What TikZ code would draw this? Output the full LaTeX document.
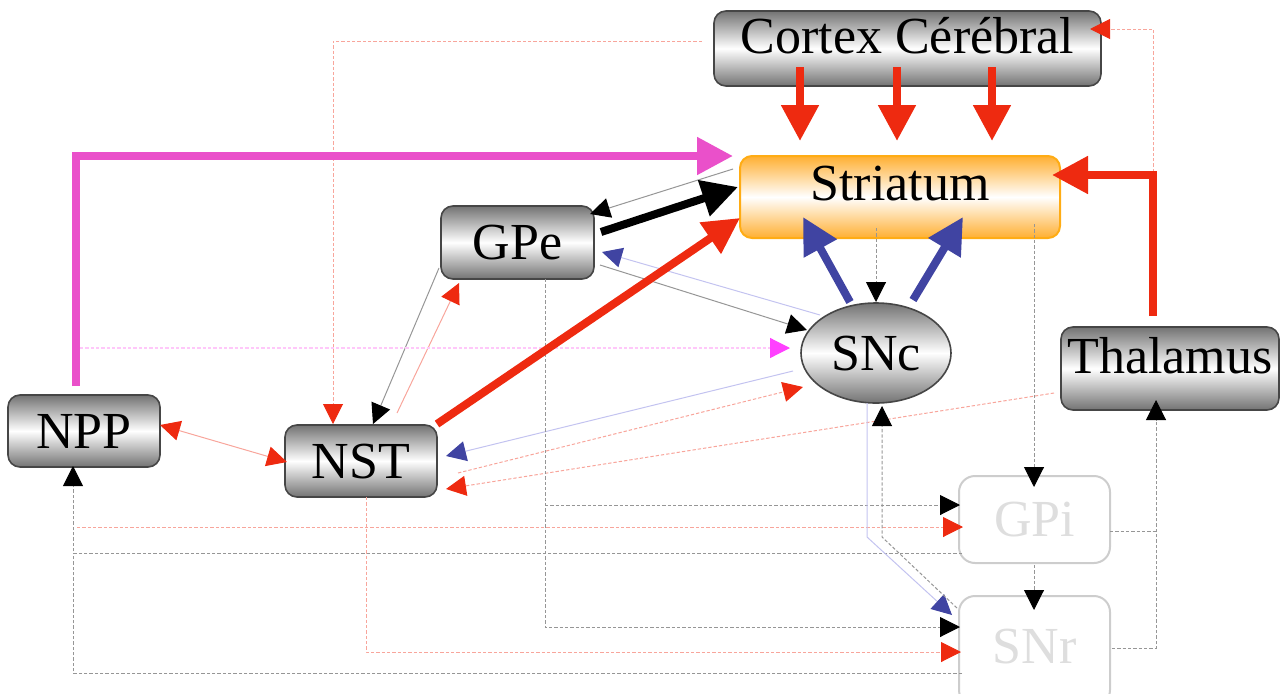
\documentclass[tikz,border=0pt]{standalone}
\usepackage{fontspec}
\setmainfont{Liberation Serif}
\usetikzlibrary{arrows.meta,shapes.geometric}
\definecolor{cred}{RGB}{238,42,16}
\definecolor{cpink}{RGB}{234,80,202}
\definecolor{cblue}{RGB}{64,68,162}
\definecolor{cmag}{RGB}{255,64,255}
\definecolor{lred}{RGB}{248,165,155}
\definecolor{lgray}{RGB}{150,150,150}
\definecolor{lblue}{RGB}{195,195,240}
\definecolor{lmag}{RGB}{255,200,250}
\definecolor{boxgray}{RGB}{115,115,115}
\definecolor{boxline}{RGB}{70,70,70}
\definecolor{borange}{RGB}{255,172,20}
\definecolor{torange}{RGB}{255,175,50}
\definecolor{faint}{RGB}{205,205,205}
\definecolor{fainttext}{RGB}{222,222,222}
\tikzset{
  graybox/.style={rectangle, rounded corners=9pt, draw=boxline, line width=1.2pt,
    top color=boxgray, bottom color=boxgray, middle color=white, inner sep=0pt,
    text height=25.5pt, text depth=0pt, font=\fontsize{39}{40}\selectfont},
  grayell/.style={ellipse, draw=boxline, line width=1.2pt,
    top color=boxgray, bottom color=boxgray, middle color=white, inner sep=0pt,
    text height=25.5pt, text depth=0pt, font=\fontsize{39}{40}\selectfont},
  orbox/.style={rectangle, rounded corners=9pt, draw=borange, line width=1.5pt,
    top color=torange, bottom color=torange, middle color=white, inner sep=0pt,
    text height=25.5pt, text depth=0pt, font=\fontsize{39}{40}\selectfont},
  fbox/.style={rectangle, rounded corners=12pt, draw=faint, line width=1.5pt, fill=white,
    text=fainttext, inner sep=0pt, text height=25.5pt, text depth=0pt,
    font=\fontsize{39}{40}\selectfont},
  thickar/.style={line width=6pt, -{Triangle[length=27pt,width=27pt]}},
  ar/.style={-{Triangle[length=15pt,width=15pt,color=#1]}},
  arboth/.style={{Triangle[length=15pt,width=15pt,color=#1]}-{Triangle[length=15pt,width=15pt,color=#1]}},
  lr/.style={draw=lred, line width=0.75pt},
  lg/.style={draw=lgray, line width=0.75pt},
  lb/.style={draw=lblue, line width=0.75pt},
  lm/.style={draw=lmag, line width=0.9pt},
  dsh/.style={dash pattern=on 2.5pt off 1.5pt},
}
\begin{document}
\begin{tikzpicture}[x=0.75pt,y=-0.75pt]
\useasboundingbox (0,0) rectangle (1282,693);

% nodes
\node[graybox, minimum width=290.25pt, minimum height=56.25pt, text depth=18.75pt] (cortex) at (907.5,48.5) {Cortex Cérébral};
\node[orbox, minimum width=240pt, minimum height=61.5pt, text depth=21pt] (striatum) at (900,197) {Striatum};
\node[graybox, minimum width=114.75pt, minimum height=54.75pt] (gpe) at (517.5,242.5) {GPe};
\node[graybox, minimum width=114pt, minimum height=54pt] (npp) at (84,431) {NPP};
\node[graybox, minimum width=114pt, minimum height=54pt] (nst) at (361,461) {NST};
\node[grayell, minimum width=112.5pt, minimum height=75pt] (snc) at (876,353) {SNc};
\node[graybox, minimum width=163.5pt, minimum height=62.25pt, text depth=18.75pt] (thal) at (1170,368.5) {Thalamus};
\node[fbox, minimum width=113.25pt, minimum height=65.25pt] (gpi) at (1034.5,519.5) {GPi};
\node[fbox, minimum width=113.25pt, minimum height=82.5pt, text depth=7.5pt] (snr) at (1034.5,651) {SNr};

% thin connectors
\draw[lr, dsh, ar=cred] (702,41) -- (333,41) -- (333,424);
\draw[lr, dsh, ar=cred] (1153,172) -- (1153,29) -- (1090,29);
\draw[lg, ar=black] (733,169) -- (590,214);
\draw[lg, ar=black] (600,265) -- (807,330);
\draw[lb, ar=cblue] (820,315) -- (602,252);
\draw[lg, dsh, ar=black] (876,228) -- (876,302);
\draw[lg, ar=black] (439,268) -- (373,424);
\draw[lr, ar=cred] (397,413) -- (459,283);
\draw[lr, arboth=cred] (160,425) -- (287,462);
\draw[lm, dsh, ar=cmag] (80,348) -- (790,348);
\draw[lb, ar=cblue] (793,371) -- (446,456);
\draw[lr, dsh, ar=cred] (458,473) -- (803,387);
\draw[lr, dsh, ar=cred] (1054,393) -- (446,489);
\draw[lg, dsh, ar=black] (545,279) -- (545,627) -- (960,627);
\draw[lg, dsh, ar=black] (545,505) -- (960,505);
\draw[lr, dsh, ar=cred] (77,527) -- (963,527);
\draw[lg, dsh, ar=black] (962,553) -- (73,553) -- (73,466);
\draw[lg, dsh] (962,673) -- (73,673) -- (73,553);
\draw[lr, dsh, ar=cred] (366,497) -- (366,652) -- (961,652);
\draw[lg, dsh, ar=black] (1034,224) -- (1034,487);
\draw[lg, dsh, ar=black] (1034,565) -- (1034,610);
\draw[lg, dsh] (1110,531) -- (1158,531);
\draw[lg, dsh, ar=black] (1112,648) -- (1156,648) -- (1156,400);
\draw[lb, ar=cblue] (867,403) -- (867,537) -- (952,615);
\draw[lg, dsh, ar=black] (957,608) -- (882,537) -- (882,406);

% thick connectors
\draw[thickar, cred] (800,67) -- (800,141);
\draw[thickar, cred] (897,67) -- (897,141);
\draw[thickar, cred] (992,67) -- (992,141);
\draw[thickar, cpink] (76,386) -- (76,156) -- (733,156);
\draw[thickar, black] (601,232) -- (738,187);
\draw[thickar, cred] (437,424) -- (740,218);
\draw[thickar, cblue] (850,302) -- (803,217);
\draw[thickar, cblue] (913,300) -- (963,217);
\draw[thickar, cred] (1153,316) -- (1153,175) -- (1052,175);
\end{tikzpicture}
\end{document}
